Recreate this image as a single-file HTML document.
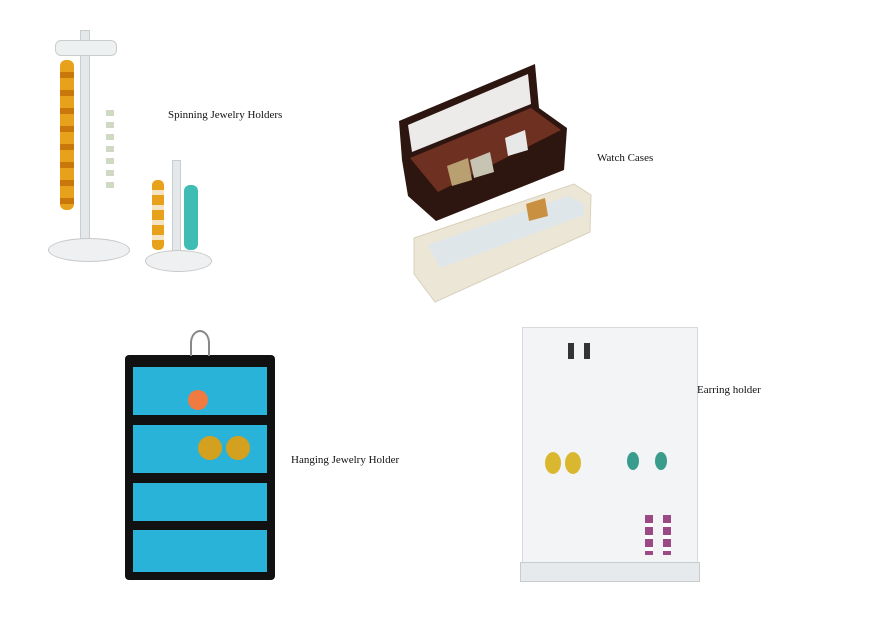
<!DOCTYPE html>
<html><head><meta charset="utf-8"><style>
body{margin:0;width:874px;height:620px;background:#fff;position:relative;overflow:hidden;font-family:"Liberation Serif",serif;}
.a{position:absolute;}
.lbl{position:absolute;font-size:11px;color:#111;white-space:nowrap;}
</style></head><body>
<!-- spinning holders -->
<div class="a" style="left:80px;top:30px;width:8px;height:210px;background:#e4e8ea;border:1px solid #c8cdd0"></div>
<div class="a" style="left:55px;top:40px;width:60px;height:14px;background:#eef1f2;border:1px solid #ccc;border-radius:6px"></div>
<div class="a" style="left:48px;top:238px;width:80px;height:22px;background:#eef0f1;border:1px solid #c8c8c8;border-radius:50%"></div>
<div class="a" style="left:60px;top:60px;width:14px;height:150px;background:repeating-linear-gradient(#e8a11a 0 12px,#c9770a 12px 18px);border-radius:6px"></div>
<div class="a" style="left:106px;top:110px;width:8px;height:80px;background:repeating-linear-gradient(#cfd9c4 0 6px,#fff 6px 12px)"></div>
<div class="a" style="left:172px;top:160px;width:7px;height:100px;background:#e4e8ea;border:1px solid #c8cdd0"></div>
<div class="a" style="left:145px;top:250px;width:65px;height:20px;background:#eef0f1;border:1px solid #c8c8c8;border-radius:50%"></div>
<div class="a" style="left:152px;top:180px;width:12px;height:70px;background:repeating-linear-gradient(#e8a11a 0 10px,#f4e4c4 10px 15px);border-radius:5px"></div>
<div class="a" style="left:184px;top:185px;width:14px;height:65px;background:#3fbcb4;border-radius:6px"></div>
<div class="lbl" style="left:168px;top:109px">Spinning Jewelry Holders</div>
<!-- watch cases -->
<svg class="a" style="left:0;top:0" width="874" height="620">
<polygon points="399,121 535,64 539,108 567,128 564,170 436,221 408,196 402,160" fill="#2e1610"/>
<polygon points="408,125 528,74 531,104 412,152" fill="#ecebea"/>
<polygon points="410,158 531,108 561,130 438,192" fill="#6e3020"/>
<polygon points="447,166 468,158 472,180 452,186" fill="#b8a070"/>
<polygon points="470,160 490,152 494,172 474,178" fill="#c8c4b4"/>
<polygon points="505,138 525,130 528,150 508,156" fill="#e8e8e8"/>
<polygon points="414,238 574,184 591,195 590,232 435,302 414,274" fill="#ece6d6" stroke="#d8d0bc"/>
<polygon points="428,245 568,196 584,204 584,215 440,268" fill="#dfe6ea"/>
<polygon points="526,204 545,198 548,216 529,221" fill="#c89040"/>
</svg>
<div class="lbl" style="left:597px;top:152px">Watch Cases</div>
<!-- hanging holder -->
<div class="a" style="left:125px;top:355px;width:150px;height:225px;background:#111;border-radius:4px"></div>
<div class="a" style="left:190px;top:330px;width:16px;height:24px;border:2px solid #888;border-radius:50% 50% 0 0;border-bottom:none"></div>
<div class="a" style="left:133px;top:367px;width:134px;height:48px;background:#2ab3d9"></div>
<div class="a" style="left:133px;top:425px;width:134px;height:48px;background:#2ab3d9"></div>
<div class="a" style="left:133px;top:483px;width:134px;height:38px;background:#2ab3d9"></div>
<div class="a" style="left:133px;top:530px;width:134px;height:42px;background:#2ab3d9"></div>
<div class="a" style="left:198px;top:436px;width:24px;height:24px;border-radius:50%;background:#d3a020"></div>
<div class="a" style="left:226px;top:436px;width:24px;height:24px;border-radius:50%;background:#d3a020"></div>
<div class="a" style="left:188px;top:390px;width:20px;height:20px;border-radius:50%;background:#f07a40"></div>
<div class="lbl" style="left:291px;top:454px">Hanging Jewelry Holder</div>
<!-- earring holder -->
<div class="a" style="left:522px;top:327px;width:174px;height:245px;background:#f2f4f5;border:1px solid #d6dadc"></div>
<div class="a" style="left:520px;top:562px;width:178px;height:18px;background:#e6eaec;border:1px solid #c7cccf"></div>
<div class="a" style="left:545px;top:452px;width:16px;height:22px;border-radius:50%;background:#d9b830"></div>
<div class="a" style="left:565px;top:452px;width:16px;height:22px;border-radius:50%;background:#d9b830"></div>
<div class="a" style="left:627px;top:452px;width:12px;height:18px;border-radius:50%;background:#3a9c8c"></div>
<div class="a" style="left:655px;top:452px;width:12px;height:18px;border-radius:50%;background:#3a9c8c"></div>
<div class="a" style="left:568px;top:343px;width:6px;height:16px;background:#333"></div>
<div class="a" style="left:584px;top:343px;width:6px;height:16px;background:#333"></div>
<div class="a" style="left:645px;top:515px;width:8px;height:40px;background:repeating-linear-gradient(#9b4a86 0 8px,#fff 8px 12px)"></div>
<div class="a" style="left:663px;top:515px;width:8px;height:40px;background:repeating-linear-gradient(#9b4a86 0 8px,#fff 8px 12px)"></div>
<div class="lbl" style="left:697px;top:384px">Earring holder</div>
</body></html>
